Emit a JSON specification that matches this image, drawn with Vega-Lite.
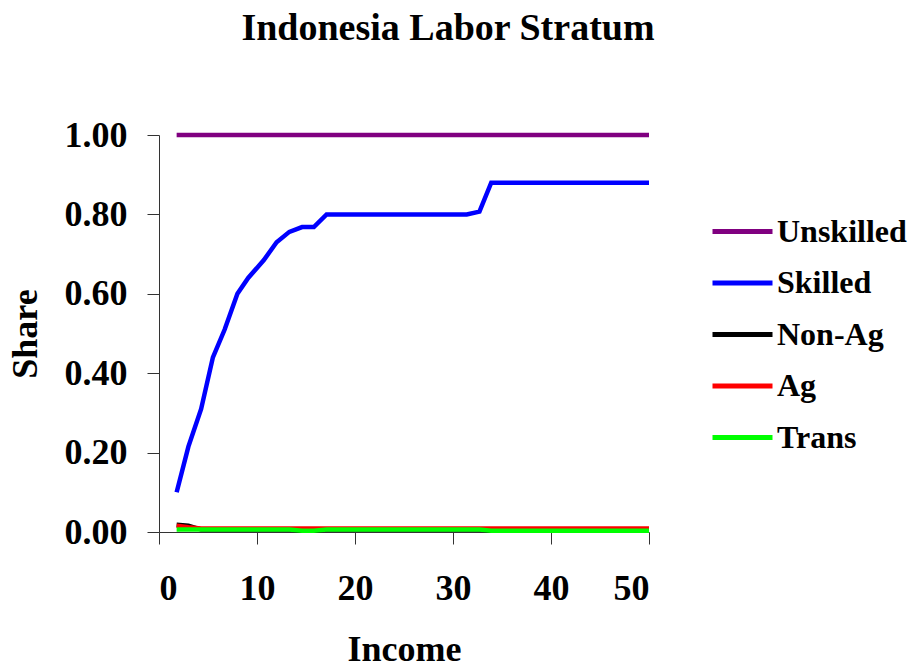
{
  "$schema": "https://vega.github.io/schema/vega-lite/v6.json",
  "autosize": "none",
  "width": 490,
  "height": 397,
  "padding": {"left": 159, "top": 135, "right": 265, "bottom": 137},
  "background": "white",
  "title": {
    "text": "Indonesia Labor Stratum",
    "font": "Liberation Serif",
    "fontSize": 38,
    "fontWeight": "bold",
    "color": "black",
    "anchor": "middle",
    "baseline": "alphabetic",
    "offset": 39,
    "dx": 44
  },
  "config": {
    "view": {"stroke": null},
    "axis": {
      "grid": false,
      "labelFont": "Liberation Serif",
      "labelFontWeight": "bold",
      "labelFontSize": 36,
      "labelColor": "black",
      "titleFont": "Liberation Serif",
      "titleFontWeight": "bold",
      "titleFontSize": 36,
      "titleColor": "black",
      "domainColor": "#333333",
      "tickColor": "#333333",
      "tickSize": 12,
      "domainWidth": 1,
      "tickWidth": 1
    },
    "legend": {
      "labelFont": "Liberation Serif",
      "labelFontWeight": "bold",
      "labelFontSize": 32,
      "labelColor": "black"
    }
  },
  "data": {
    "values": [
      {"income": 1.8, "series": "Unskilled", "share": 1.0},
      {"income": 50, "series": "Unskilled", "share": 1.0},

      {"income": 1.8, "series": "Skilled", "share": 0.10},
      {"income": 3.0, "series": "Skilled", "share": 0.215},
      {"income": 4.3, "series": "Skilled", "share": 0.31},
      {"income": 5.5, "series": "Skilled", "share": 0.44},
      {"income": 6.7, "series": "Skilled", "share": 0.51},
      {"income": 8.0, "series": "Skilled", "share": 0.60},
      {"income": 9.1, "series": "Skilled", "share": 0.64},
      {"income": 10.7, "series": "Skilled", "share": 0.685},
      {"income": 12.0, "series": "Skilled", "share": 0.73},
      {"income": 13.3, "series": "Skilled", "share": 0.756},
      {"income": 14.6, "series": "Skilled", "share": 0.768},
      {"income": 15.8, "series": "Skilled", "share": 0.768},
      {"income": 17.1, "series": "Skilled", "share": 0.80},
      {"income": 31.4, "series": "Skilled", "share": 0.80},
      {"income": 32.7, "series": "Skilled", "share": 0.807},
      {"income": 33.9, "series": "Skilled", "share": 0.88},
      {"income": 50, "series": "Skilled", "share": 0.88},

      {"income": 1.8, "series": "Non-Ag", "share": 0.018},
      {"income": 3.0, "series": "Non-Ag", "share": 0.016},
      {"income": 4.3, "series": "Non-Ag", "share": 0.006},
      {"income": 13.3, "series": "Non-Ag", "share": 0.006},
      {"income": 14.6, "series": "Non-Ag", "share": 0.003},
      {"income": 15.8, "series": "Non-Ag", "share": 0.003},
      {"income": 17.1, "series": "Non-Ag", "share": 0.006},
      {"income": 32.7, "series": "Non-Ag", "share": 0.006},
      {"income": 33.9, "series": "Non-Ag", "share": 0.003},
      {"income": 50, "series": "Non-Ag", "share": 0.003},

      {"income": 1.8, "series": "Ag", "share": 0.016},
      {"income": 3.0, "series": "Ag", "share": 0.012},
      {"income": 4.3, "series": "Ag", "share": 0.009},
      {"income": 50, "series": "Ag", "share": 0.009},

      {"income": 1.8, "series": "Trans", "share": 0.006},
      {"income": 13.3, "series": "Trans", "share": 0.006},
      {"income": 14.6, "series": "Trans", "share": 0.003},
      {"income": 15.8, "series": "Trans", "share": 0.003},
      {"income": 17.1, "series": "Trans", "share": 0.006},
      {"income": 32.7, "series": "Trans", "share": 0.006},
      {"income": 33.9, "series": "Trans", "share": 0.003},
      {"income": 50, "series": "Trans", "share": 0.003}
    ]
  },
  "mark": {"type": "line", "strokeWidth": 4.5, "clip": false},
  "encoding": {
    "x": {
      "field": "income",
      "type": "quantitative",
      "scale": {"domain": [0, 50], "nice": false},
      "axis": {
        "title": "Income",
        "values": [0, 10, 20, 30, 40, 50],
        "labelPadding": 27,
        "titlePadding": 26
      }
    },
    "y": {
      "field": "share",
      "type": "quantitative",
      "scale": {"domain": [0, 1], "nice": false},
      "axis": {
        "title": "Share",
        "values": [0, 0.2, 0.4, 0.6, 0.8, 1.0],
        "format": ".2f",
        "labelPadding": 20,
        "titlePadding": 20
      }
    },
    "color": {
      "field": "series",
      "type": "nominal",
      "scale": {
        "domain": ["Unskilled", "Skilled", "Non-Ag", "Ag", "Trans"],
        "range": ["#800080", "#0000FF", "#000000", "#FF0000", "#00FF00"]
      },
      "legend": {
        "title": null,
        "orient": "none",
        "legendX": 551,
        "legendY": 64,
        "symbolType": "stroke",
        "symbolSize": 3600,
        "symbolStrokeWidth": 5,
        "labelOffset": 2,
        "rowPadding": 2.5
      }
    }
  }
}
